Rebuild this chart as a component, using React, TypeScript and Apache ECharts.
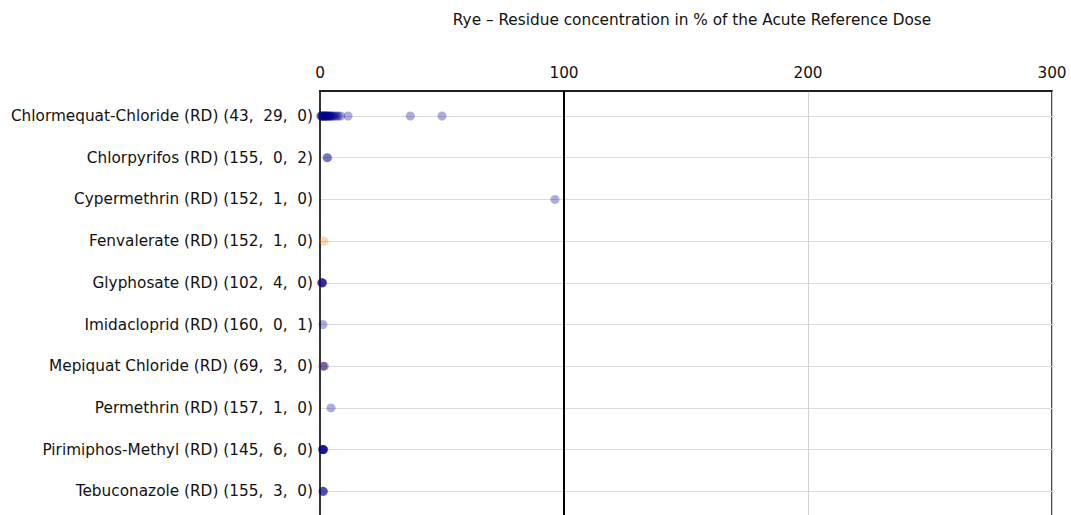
import React, { useEffect, useRef } from "react";
import * as echarts from "echarts";

const titleText = "Rye – Residue concentration in % of the Acute Reference Dose";
const categories = [
  "Chlormequat-Chloride (RD) (43,  29,  0)",
  "Chlorpyrifos (RD) (155,  0,  2)",
  "Cypermethrin (RD) (152,  1,  0)",
  "Fenvalerate (RD) (152,  1,  0)",
  "Glyphosate (RD) (102,  4,  0)",
  "Imidacloprid (RD) (160,  0,  1)",
  "Mepiquat Chloride (RD) (69,  3,  0)",
  "Permethrin (RD) (157,  1,  0)",
  "Pirimiphos-Methyl (RD) (145,  6,  0)",
  "Tebuconazole (RD) (155,  3,  0)",
];
const xTicks = [0, 100, 200, 300];
const referenceLine = 100;

// values (% ARfD) per category row
const blueValues: number[][] = [
  [0.3, 0.5, 0.8, 1, 1.2, 1.5, 1.8, 2, 2.2, 2.5, 2.8, 3, 3.3, 3.6, 4, 4.2, 4.5, 5, 5.5, 6, 6.8, 7.5, 8.5, 11.5, 37, 50],
  [2.9, 3.1],
  [96.3],
  [],
  [0.6, 0.8, 1.0, 1.1],
  [1.2],
  [1.2, 1.8],
  [4.5],
  [1.0, 1.2, 1.3, 1.4, 1.5, 1.2],
  [1.2, 1.3, 1.4],
];
const orangeValues: number[][] = [
  [1, 1.8, 2.6],
  [],
  [],
  [1.6],
  [0.9],
  [],
  [1.5],
  [],
  [],
  [],
];

const toPoints = (rows: number[][]) =>
  rows.flatMap((vals, i) => vals.map((v) => [v, i]));

export default function App() {
  const ref = useRef<HTMLDivElement>(null);
  useEffect(() => {
    if (!ref.current) return;
    const chart = echarts.init(ref.current, null, { renderer: "svg" });
    const font = "DejaVu Sans";
    const fs = 15.3;
    const rowIdx = categories.map((_, i) => i);
    chart.setOption({
      animation: false,
      title: {
        text: titleText,
        left: 687,
        textAlign: "center",
        top: 7,
        textStyle: { fontFamily: font, fontSize: fs, fontWeight: "normal", color: "#111" },
      },
      grid: {
        left: 320,
        right: 19,
        top: 91,
        bottom: 27,
        show: true,
        borderColor: "#111",
        borderWidth: 1.5,
        backgroundColor: "transparent",
      },
      xAxis: {
        type: "value",
        position: "top",
        min: xTicks[0],
        max: xTicks[xTicks.length - 1],
        interval: 100,
        axisLine: { show: true, onZero: false, lineStyle: { color: "#111", width: 1.5 } },
        axisTick: { show: false },
        axisLabel: { fontFamily: font, fontSize: fs, color: "#111", margin: 11 },
        splitLine: { show: true, lineStyle: { color: "#d0d0d0", width: 1 } },
      },
      yAxis: {
        type: "value",
        inverse: true,
        min: -0.6,
        max: 10,
        axisLine: { show: true, onZero: false, lineStyle: { color: "#333", width: 2 } },
        axisTick: { show: false, customValues: rowIdx },
        axisLabel: {
          customValues: rowIdx,
          fontFamily: font,
          fontSize: fs,
          color: "#111",
          margin: 7,
          formatter: (v: number) => categories[Math.round(v)] ?? "",
        },
        splitLine: { show: true, lineStyle: { color: "#dcdcdc", width: 1 } },
      },
      series: [
        {
          type: "scatter",
          symbolSize: 9,
          itemStyle: { color: "rgba(255,127,0,0.4)" },
          data: toPoints(orangeValues),
          z: 3,
        },
        {
          type: "scatter",
          symbolSize: 9,
          itemStyle: { color: "rgba(0,0,139,0.4)" },
          data: toPoints(blueValues),
          z: 4,
          markLine: {
            silent: true,
            symbol: "none",
            label: { show: false },
            lineStyle: { color: "#000", width: 2, type: "solid" },
            data: [{ xAxis: referenceLine }],
          },
        },
      ],
    });
    return () => chart.dispose();
  }, []);
  return (
    <div style={{ position: "fixed", left: 0, top: 0, width: 1071, height: 515, overflow: "hidden", background: "#fff" }}>
      <div ref={ref} style={{ width: 1071, height: 560 }} />
    </div>
  );
}
